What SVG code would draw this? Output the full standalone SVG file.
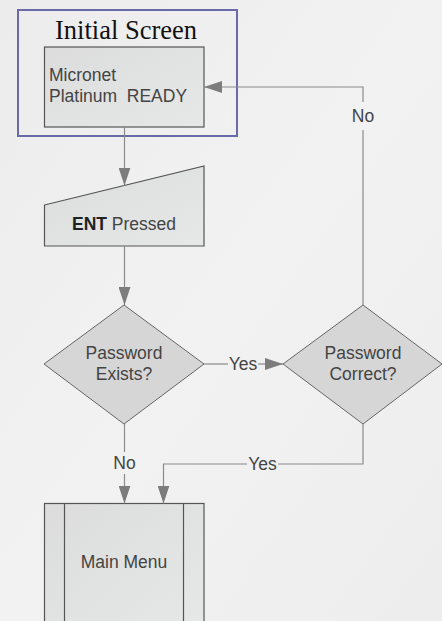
<svg xmlns="http://www.w3.org/2000/svg" width="442" height="621" viewBox="0 0 442 621">
<defs>
<linearGradient id="bg" x1="0" y1="0" x2="1" y2="1">
<stop offset="0" stop-color="#ececec"/>
<stop offset="0.5" stop-color="#f2f2f2"/>
<stop offset="1" stop-color="#ededed"/>
</linearGradient>
<linearGradient id="nodefill" x1="0" y1="0" x2="1" y2="1">
<stop offset="0" stop-color="#dcdcdc"/>
<stop offset="1" stop-color="#e6e8e8"/>
</linearGradient>
<marker id="arr" viewBox="0 0 18 12" refX="18" refY="6" markerWidth="18" markerHeight="12" markerUnits="userSpaceOnUse" orient="auto">
<path d="M0,0 L18,6 L0,12 Z" fill="#7c7c7c"/>
</marker>
</defs>
<style>
.node{fill:url(#nodefill);stroke:#555;stroke-width:1.2}
.dia{fill:#d6d6d6;stroke:#666;stroke-width:1}
.lbl{font-family:"Liberation Sans",Arial,sans-serif;font-size:17.5px;fill:#444}
.conn{fill:none;stroke:#8a8a8a;stroke-width:1.2}
.title{font-family:"Liberation Serif","Times New Roman",serif;font-size:26.5px;fill:#111}
</style>
<rect x="0" y="0" width="442" height="621" fill="url(#bg)"/>

<g id="initial-screen">
<rect x="18" y="10" width="219" height="126" fill="none" stroke="#6a6aaa" stroke-width="2"/>
<text class="title" x="126" y="38.5" text-anchor="middle">Initial Screen</text>
</g>

<g id="micronet-ready">
<rect class="node" x="44.5" y="47" width="159.5" height="80"/>
<text class="lbl" x="49" y="81">Micronet</text>
<text class="lbl" x="49" y="102" xml:space="preserve">Platinum  READY</text>
</g>

<g id="ent-pressed">
<polygon class="node" points="44.5,205 204,166 204,246 44.5,246"/>
<text class="lbl" x="124" y="230" text-anchor="middle"><tspan font-weight="bold" fill="#222">ENT</tspan> Pressed</text>
</g>

<g id="password-exists">
<polygon class="dia" points="124,305 204,364 124,424 44,364"/>
<text class="lbl" x="124" y="359" text-anchor="middle">Password</text>
<text class="lbl" x="124" y="380" text-anchor="middle">Exists?</text>
</g>

<g id="password-correct">
<polygon class="dia" points="363,305 442,364 363,424 283,364"/>
<text class="lbl" x="363" y="359" text-anchor="middle">Password</text>
<text class="lbl" x="363" y="380" text-anchor="middle">Correct?</text>
</g>

<g id="main-menu">
<rect class="node" x="44.5" y="503.5" width="159.5" height="130"/>
<line x1="64.5" y1="503.5" x2="64.5" y2="633" stroke="#555" stroke-width="1.2"/>
<line x1="183.5" y1="503.5" x2="183.5" y2="633" stroke="#555" stroke-width="1.2"/>
<text class="lbl" x="124" y="568" text-anchor="middle">Main Menu</text>
</g>

<g id="connectors">
<line class="conn" x1="124.5" y1="127" x2="124.5" y2="185.5" marker-end="url(#arr)"/>
<line class="conn" x1="124.5" y1="246" x2="124.5" y2="305" marker-end="url(#arr)"/>
<line class="conn" x1="204" y1="364" x2="228" y2="364"/>
<line class="conn" x1="258" y1="364" x2="283" y2="364" marker-end="url(#arr)"/>
<text class="lbl" x="243" y="370" text-anchor="middle">Yes</text>
<polyline class="conn" points="363,305 363,130"/>
<polyline class="conn" points="363,102 363,87 204,87" marker-end="url(#arr)"/>
<text class="lbl" x="363" y="122" text-anchor="middle">No</text>
<line class="conn" x1="124.5" y1="424" x2="124.5" y2="452"/>
<line class="conn" x1="124.5" y1="474" x2="124.5" y2="503.5" marker-end="url(#arr)"/>
<text class="lbl" x="124.5" y="469" text-anchor="middle">No</text>
<polyline class="conn" points="363,424 363,464 278,464"/>
<polyline class="conn" points="247,464 163.5,464 163.5,503.5" marker-end="url(#arr)"/>
<text class="lbl" x="262.5" y="470" text-anchor="middle">Yes</text>
</g>
</svg>
